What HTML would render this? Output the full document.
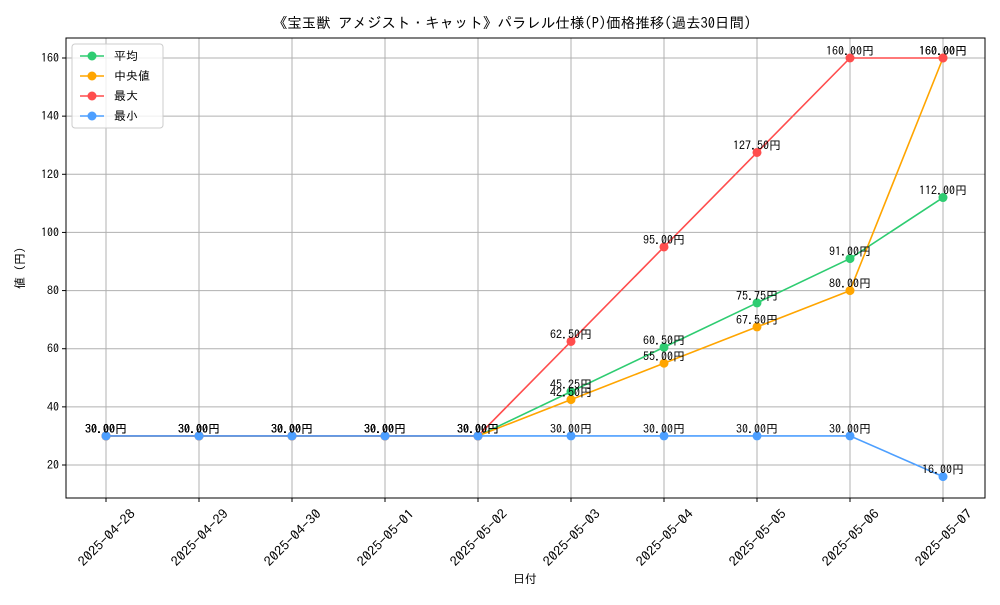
<!DOCTYPE html>
<html><head><meta charset="utf-8"><style>
body{margin:0;background:#fff}
svg text{font-family:"IPAGothic","Liberation Sans","Noto Sans CJK JP",sans-serif}
</style></head><body>
<svg id="c" width="1000" height="600" xmlns="http://www.w3.org/2000/svg"></svg>
<script>
const categories=["2025-04-28","2025-04-29","2025-04-30","2025-05-01","2025-05-02","2025-05-03","2025-05-04","2025-05-05","2025-05-06","2025-05-07"];
const avgValues=[30,30,30,30,30,45.25,60.5,75.75,91,112];
const medianValues=[30,30,30,30,30,42.5,55,67.5,80,160];
const maxValues=[30,30,30,30,30,62.5,95,127.5,160,160];
const minValues=[30,30,30,30,30,30,30,30,30,16];
const yTicks=[20,40,60,80,100,120,140,160];
const seriesNames=["平均","中央値","最大","最小"];
const seriesColors=["#2ecc71","#ffa500","#ff4d4d","#4d9fff"];
const NS="http://www.w3.org/2000/svg";
const svg=document.getElementById('c');
const L=66,R=985,T=38,B=498;
const x=i=>106+i*93;
const y=v=>465-(v-20)*(407/140);
function mk(t,a,p){const e=document.createElementNS(NS,t);for(const k in a)e.setAttribute(k,a[k]);(p||svg).appendChild(e);return e;}
yTicks.forEach(v=>{
 const g=mk('line',{x1:L,x2:R,y1:y(v),y2:y(v),stroke:'#b0b0b0','stroke-width':1});
 
 
 const tk=mk('line',{x1:L-4,x2:L,y1:y(v),y2:y(v),stroke:'#000'});
 
 
 const t=mk('text',{x:L-7,y:y(v)+4,'text-anchor':'end','font-size':12});
 t.textContent=v;
 
 
});
categories.forEach((c,i)=>{
 const g=mk('line',{x1:x(i),x2:x(i),y1:T,y2:B,stroke:'#b0b0b0','stroke-width':1});
 
 
 const tk=mk('line',{x1:x(i),x2:x(i),y1:B,y2:B+4,stroke:'#000'});
 
 
 const ax=x(i)+1, ay=B+44;
 const t=mk('text',{x:ax,y:ay,'text-anchor':'middle','font-size':13,textLength:74,lengthAdjust:'spacingAndGlyphs',transform:`rotate(-45 ${ax} ${ay-4})`});
 t.textContent=c;
 
 
});
const frame=mk('rect',{x:L,y:T,width:R-L,height:B-T,fill:'none',stroke:'#000','stroke-width':1});


const all=[avgValues,medianValues,maxValues,minValues];
all.forEach((vals,s)=>{
 const g=mk('g',{});
 
 
 const p=mk('polyline',{points:vals.map((v,i)=>x(i)+','+y(v)).join(' '),fill:'none',stroke:seriesColors[s],'stroke-width':1.6},g);
 
 
 vals.forEach((v,i)=>{
  const c=mk('circle',{cx:x(i),cy:y(v),r:4.5,fill:seriesColors[s]},g);
  
  
 });
});
all.forEach((vals,s)=>{
 vals.forEach((v,i)=>{
  const t=mk('text',{x:x(i),y:y(v)-3,'text-anchor':'middle','font-size':12});
  t.textContent=v.toFixed(2)+'円';
  
  
 });
});
const title=mk('text',{x:512,y:28,'text-anchor':'middle','font-size':14.5});
title.textContent='《宝玉獣 アメジスト・キャット》パラレル仕様(P)価格推移(過去30日間)';


const xt=mk('text',{x:525,y:583,'text-anchor':'middle','font-size':12});
xt.textContent='日付';


const yt=mk('text',{x:24,y:268,'text-anchor':'middle','font-size':12,transform:'rotate(-90 24 268)'});
yt.textContent='値 (円)';


const lg=mk('g',{});


mk('rect',{x:72,y:44,width:91,height:84,rx:3,fill:'#fff','fill-opacity':0.8,stroke:'#ccc'},lg);
seriesNames.forEach((n,s)=>{
 const yy=56+s*20;
 const e=mk('g',{},lg);
 
 
 mk('line',{x1:80,x2:104,y1:yy,y2:yy,stroke:seriesColors[s],'stroke-width':1.6},e);
 mk('circle',{cx:92,cy:yy,r:4.5,fill:seriesColors[s]},e);
 const t=mk('text',{x:114,y:yy+4,'font-size':12},e);
 t.textContent=n;
});
</script>
</body></html>
